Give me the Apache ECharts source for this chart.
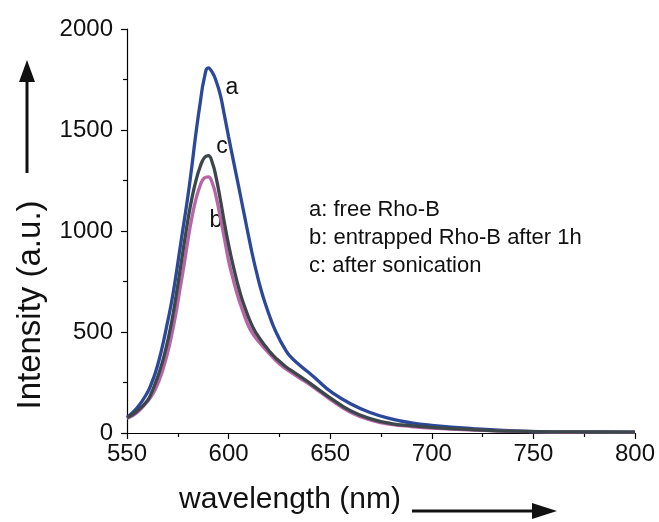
<!DOCTYPE html>
<html>
<head>
<meta charset="utf-8">
<script src="https://cdn.jsdelivr.net/npm/echarts@6/dist/echarts.min.js"></script>
<style>html,body{margin:0;padding:0;background:#fff}#c{width:659px;height:522px}</style>
</head>
<body>
<div id="c"></div>
<script>
var wavelengths = [550,555,560,562,564,566,568,570,572,574,576,578,580,582,584,586,588,590,592,594,596,598,600,602,604,606,608,610,612,614,616,618,620,622,624,626,628,630,635,640,645,650,660,670,680,690,700,720,740,760,780,800];
var seriesA = [78,125,200,245,300,370,455,551,652,774,909,1041,1174,1327,1490,1633,1755,1808,1785,1738,1670,1570,1466,1366,1267,1167,1066,966,870,785,708,642,584,530,486,446,412,383,335,295,250,207,145,100,70,50,38,22,11,6,5,4];
var seriesB = [72,102,155,182,218,265,325,398,485,588,708,827,955,1070,1160,1225,1262,1268,1237,1163,1063,960,852,770,695,632,575,525,490,463,438,415,393,372,352,334,319,305,272,240,203,167,103,64,43,32,24,14,8,5,4,3];
var seriesC = [75,108,160,198,248,305,372,455,552,668,797,929,1056,1165,1252,1318,1362,1373,1338,1258,1152,1037,931,838,756,682,622,568,522,488,458,431,406,383,364,346,329,315,282,247,210,174,110,70,47,36,28,17,9,6,5,4];
var xTicks = [550,600,650,700,750,800];
var yTicks = [0,500,1000,1500,2000];
var legendLines = ['a: free Rho-B','b: entrapped Rho-B after 1h','c: after sonication'];

function pairs(ys){ return wavelengths.map(function(w,i){ return [w, ys[i]]; }); }

var chart = echarts.init(document.getElementById('c'), null, {renderer:'canvas'});
var font = '"Liberation Sans", Arial, sans-serif';
function axisBase(margin){
  return {
    axisLine:{show:true,lineStyle:{color:'#000',width:1.2}},
    axisTick:{show:true,inside:false,length:6,lineStyle:{color:'#000',width:1.2}},
    minorTick:{show:true,splitNumber:2,length:4,lineStyle:{color:'#000',width:1.2}},
    splitLine:{show:false},
    axisLabel:{color:'#111',fontSize:24,fontFamily:font,margin:margin,formatter:function(v){return String(v);}}
  };
}
chart.setOption({
  animation:false,
  backgroundColor:'#fff',
  grid:{left:127,right:24,top:29,bottom:89,containLabel:false},
  xAxis:Object.assign({type:'value',min:xTicks[0],max:xTicks[xTicks.length-1],interval:50}, axisBase(9)),
  yAxis:Object.assign({type:'value',min:yTicks[0],max:yTicks[yTicks.length-1],interval:500}, axisBase(14)),
  series:[
    {name:'a',type:'line',data:pairs(seriesA),smooth:0.5,showSymbol:false,lineStyle:{color:'#2c4899',width:3.3},z:2},
    {name:'b',type:'line',data:pairs(seriesB),smooth:0.5,showSymbol:false,lineStyle:{color:'#b665a7',width:3.3},z:3},
    {name:'c',type:'line',data:pairs(seriesC),smooth:0.5,showSymbol:false,lineStyle:{color:'#3c474a',width:3.3},z:4}
  ],
  graphic:[
    {type:'text',x:232,y:88,style:{text:'a',font:'23px '+font,fill:'#111',align:'center',verticalAlign:'middle'}},
    {type:'text',x:222,y:147,style:{text:'c',font:'23px '+font,fill:'#111',align:'center',verticalAlign:'middle'}},
    {type:'text',x:216,y:221,style:{text:'b',font:'23px '+font,fill:'#111',align:'center',verticalAlign:'middle'}},
    {type:'text',x:309,y:210,style:{text:legendLines[0],font:'22px '+font,fill:'#111',verticalAlign:'middle'}},
    {type:'text',x:309,y:238,style:{text:legendLines[1],font:'22px '+font,fill:'#111',verticalAlign:'middle'}},
    {type:'text',x:309,y:266,style:{text:legendLines[2],font:'22px '+font,fill:'#111',verticalAlign:'middle'}},
    {type:'text',x:31,y:305,rotation:Math.PI/2,style:{text:'Intensity (a.u.)',font:'33px '+font,fill:'#111',align:'center',verticalAlign:'middle'}},
    {type:'text',x:290,y:500,style:{text:'wavelength (nm)',font:'30px '+font,fill:'#111',align:'center',verticalAlign:'middle'}},
    {type:'line',shape:{x1:27,y1:173,x2:27,y2:78},style:{stroke:'#111',lineWidth:3}},
    {type:'polygon',shape:{points:[[27,60],[19,82],[35,82]]},style:{fill:'#111'}},
    {type:'line',shape:{x1:412,y1:511,x2:535,y2:511},style:{stroke:'#111',lineWidth:3}},
    {type:'polygon',shape:{points:[[557,511],[532,503],[532,519]]},style:{fill:'#111'}}
  ]
});
</script>
</body>
</html>
